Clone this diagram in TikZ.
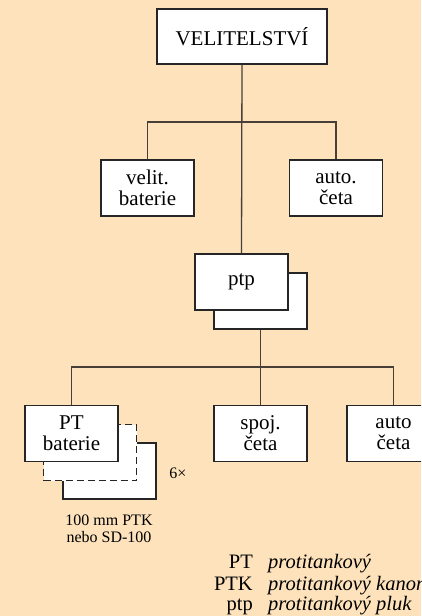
\documentclass[tikz,border=0pt]{standalone}
\usepackage{fontspec}
\setmainfont{Liberation Serif}
\usepackage{xcolor}
\usepackage{tikz}
\usetikzlibrary{positioning}

\definecolor{bgbeige}{RGB}{253,226,187}
\definecolor{linegray}{RGB}{72,64,56}

\begin{document}
\begin{tikzpicture}[
  x=1pt, y=1pt,
  box/.style={
    draw=black!85,
    line width=1.2pt,
    fill=white,
    align=center,
    minimum width=93pt,
    minimum height=56pt,
    inner sep=0pt,
    font=\fontsize{21}{21}\selectfont
  },
  line/.style={draw=linegray, line width=1.3pt},
  note/.style={font=\fontsize{16}{17}\selectfont, align=center},
  legend/.style={font=\fontsize{20.5}{21}\selectfont, inner sep=0pt}
]
  \useasboundingbox (0,0) rectangle (421,-616);
  \clip (0,0) rectangle (421,-616);
  \fill[bgbeige] (0,0) rectangle (421,-616);

  % top level
  \node[box, minimum width=170pt, minimum height=55pt] (vel) at (242,-36.5) {VELITELSTVÍ};
  \node[box] (velbat) at (147.5,-188) {velit.\\baterie};
  \node[box] (autoc) at (336,-188) {auto.\\četa};

  % regiment
  \node[box] (ptpback) at (260.5,-301) {};
  \node[box] (ptp) at (241.5,-282) {ptp};

  % lower level
  \node[box] (ptbback) at (109.5,-471) {};
  \node[box, dash pattern=on 7pt off 4pt] (ptbdash) at (90,-452.5) {};
  \node[box] (ptbat) at (71.5,-433.5) {PT\\baterie};
  \node[box] (spoj) at (260.5,-433.5) {spoj.\\četa};
  \node[box] (autoc2) at (393.5,-433.5) {auto\\četa};

  \node[note] (count) at (178,-473) {6×};
  \node[note] (arms) at (109,-529) {100 mm PTK\\nebo SD-100};

  % connectors
  \coordinate (bus1) at (242,-122);
  \coordinate (bus2) at (260.5,-367);
  \draw[line] (vel.south) -- (ptp.north);
  \draw[line] (velbat.north) |- (bus1) -| (autoc.north);
  \draw[line] (ptpback.south) -- (spoj.north);
  \draw[line] (ptbat.north) |- (bus2) -| (autoc2.north);

  % legend
  \node[legend, anchor=base east] (abpt) at (253,-568) {PT};
  \node[legend, anchor=base east] (abptk) at (253,-590) {PTK};
  \node[legend, anchor=base east] (abptp) at (253,-610) {ptp};
  \node[legend, anchor=base west] (dspt) at (268,-568) {\itshape protitankový};
  \node[legend, anchor=base west] (dsptk) at (268,-590) {\itshape protitankový kanon};
  \node[legend, anchor=base west] (dsptp) at (268,-610) {\itshape protitankový pluk};
\end{tikzpicture}
\end{document}
